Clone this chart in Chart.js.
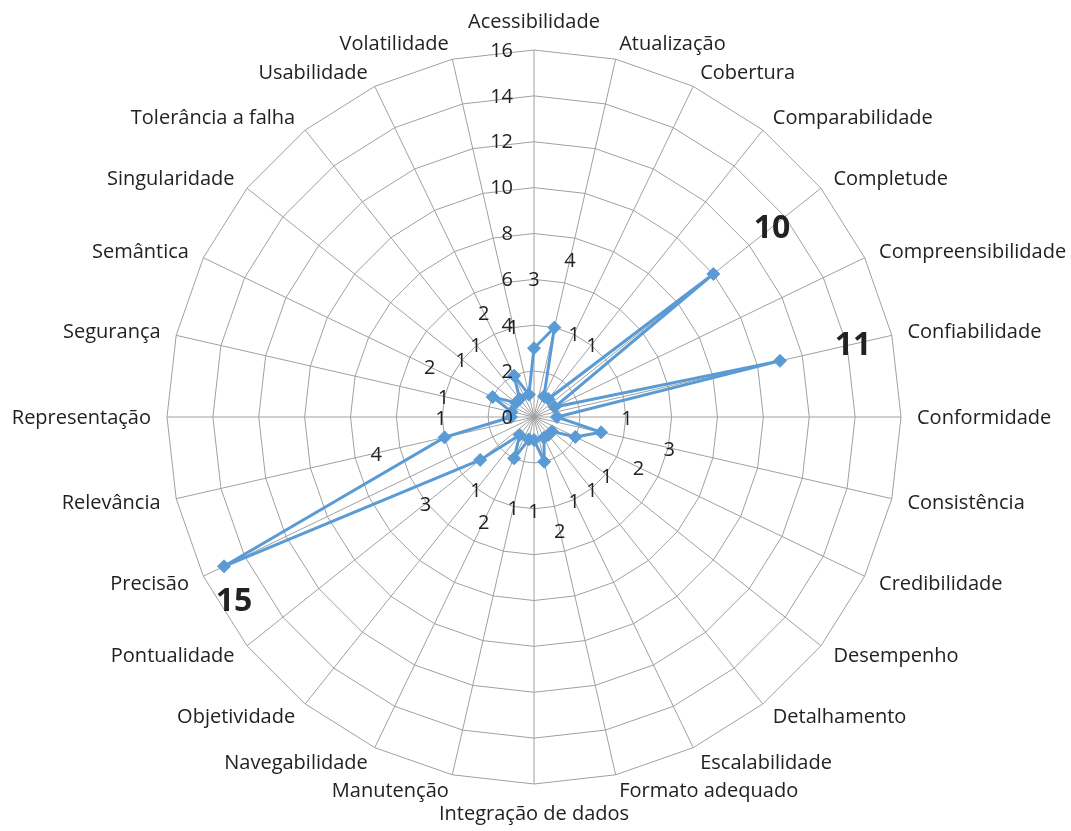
<!DOCTYPE html>
<html>
<head>
<meta charset="utf-8">
<script src="https://cdn.jsdelivr.net/npm/chart.js@4.4.1/dist/chart.umd.min.js"></script>
<style>
  html, body { margin: 0; padding: 0; background: #ffffff; }
  #wrap { width: 1071px; height: 831px; }
</style>
</head>
<body>
<div id="wrap"><canvas id="radar" width="1071" height="831"></canvas></div>
<script>
// Quality dimensions (clockwise from the top)
const categories = [
  'Acessibilidade', 'Atualização', 'Cobertura', 'Comparabilidade', 'Completude',
  'Compreensibilidade', 'Confiabilidade', 'Conformidade', 'Consistência', 'Credibilidade',
  'Desempenho', 'Detalhamento', 'Escalabilidade', 'Formato adequado', 'Integração de dados',
  'Manutenção', 'Navegabilidade', 'Objetividade', 'Pontualidade', 'Precisão',
  'Relevância', 'Representação', 'Segurança', 'Semântica', 'Singularidade',
  'Tolerância a falha', 'Usabilidade', 'Volatilidade'
];

// Number of occurrences per dimension
const counts = [
  3, 4, 1, 1, 10,
  1, 11, 1, 3, 2,
  1, 1, 1, 2, 1,
  1, 2, 1, 3, 15,
  4, 1, 1, 2, 1,
  1, 2, 1
];

// Radial axis tick labels
const tickValues = [0, 2, 4, 6, 8, 10, 12, 14, 16];

// Dimensions whose count is emphasised / left without a value label
const emphasised = ['Completude', 'Confiabilidade', 'Precisão'];
const unlabeled = ['Compreensibilidade'];

const FONT = '"Open Sans", Lato, sans-serif';
const TEXT = '#222222';
const BLUE = '#5B9BD5';
const GRID = '#a0a0a0';

// Draws category names, the radial tick labels and the value labels
const radarText = {
  id: 'radarText',
  afterDatasetsDraw(chart) {
    const ctx = chart.ctx;
    const scale = chart.scales.r;
    const R = scale.drawingArea;
    const n = categories.length;
    ctx.save();

    // category names around the outer ring
    ctx.fillStyle = TEXT;
    ctx.font = '20px ' + FONT;
    ctx.textBaseline = 'middle';
    categories.forEach((name, i) => {
      const a = i * 2 * Math.PI / n;
      const s = Math.sin(a);
      const p = scale.getPointPosition(i, R + 16);
      let y = p.y + 1;
      if (Math.abs(s) < 1e-6) {
        ctx.textAlign = 'center';
        y += Math.cos(a) > 0 ? -13 : 13;
      } else {
        ctx.textAlign = s > 0 ? 'left' : 'right';
      }
      ctx.fillText(name, p.x, y);
    });

    // radial axis ticks, to the left of the vertical axis
    ctx.textAlign = 'right';
    tickValues.forEach(v => {
      const d = scale.getDistanceFromCenterForValue(v);
      ctx.fillText(String(v), scale.xCenter - 21, scale.yCenter - d + 1);
    });

    // value labels, placed outward from each marker
    const meta = chart.getDatasetMeta(0);
    counts.forEach((v, i) => {
      const name = categories[i];
      if (unlabeled.includes(name)) return;
      const big = emphasised.includes(name);
      ctx.font = (big ? 'bold 32px ' : '20px ') + FONT;
      ctx.textAlign = 'center';
      let x, y;
      if (name === 'Precisão') {
        const pt = meta.data[i];
        x = pt.x + 10; y = pt.y + 36;
      } else {
        const p = scale.getPointPosition(i, scale.getDistanceFromCenterForValue(v) + (big ? 75 : 70));
        x = p.x; y = p.y + 2;
      }
      ctx.fillText(String(v), x, y);
    });
    ctx.restore();
  }
};

new Chart(document.getElementById('radar'), {
  type: 'radar',
  data: {
    labels: categories,
    datasets: [{
      data: counts,
      borderColor: BLUE,
      borderWidth: 3,
      backgroundColor: BLUE,
      fill: false,
      tension: 0,
      pointStyle: 'rectRot',
      pointRadius: 6.5,
      pointBackgroundColor: BLUE,
      pointBorderColor: BLUE,
      pointBorderWidth: 1
    }]
  },
  options: {
    responsive: false,
    animation: false,
    layout: { padding: { left: 167, right: 170, top: 50, bottom: 47 } },
    plugins: { legend: { display: false }, tooltip: { enabled: false } },
    scales: {
      r: {
        min: 0,
        max: 16,
        ticks: { stepSize: 2, display: false },
        grid: { color: GRID, lineWidth: 1 },
        angleLines: { color: GRID, lineWidth: 1 },
        pointLabels: { display: false }
      }
    }
  },
  plugins: [radarText]
});
</script>
</body>
</html>
